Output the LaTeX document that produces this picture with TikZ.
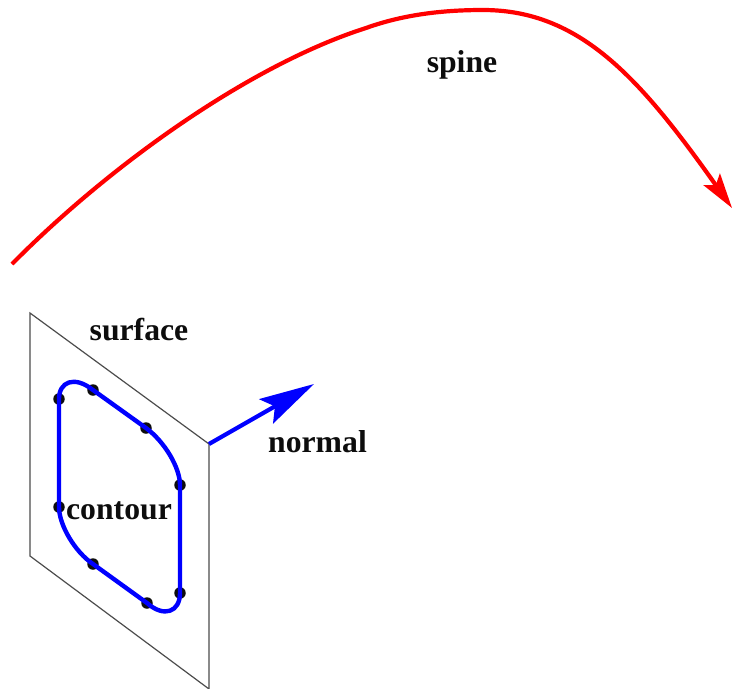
\documentclass[tikz,border=0pt]{standalone}
\usepackage{fontspec}
\setmainfont{Liberation Serif}
\usetikzlibrary{arrows.meta}

\begin{document}
\begin{tikzpicture}[
	x=1pt,y=-1pt,
	every node/.style={
		inner sep=0pt,
		font=\fontsize{31.7}{35}\selectfont\bfseries,
		text=black!95
	},
	panel/.style={draw=black!70,line width=1.2pt,line join=miter},
	spineline/.style={draw=red,line width=4.2pt,
		-{Stealth[length=35pt,width=20pt,inset=7pt]}},
	normalline/.style={draw=blue,line width=4.2pt,
		-{Stealth[length=55pt,width=28pt,inset=10pt]}},
	contourline/.style={draw=blue,line width=4.4pt,line join=round},
	ctrlpoint/.style={fill=black!95,circle,inner sep=0pt,minimum size=11.5pt}
	]
	\useasboundingbox (0,0) rectangle (732,689);
	
	%%%%%%%%%%%%%%%%%%%%%%%%%%%%%%%%%%%%%%%%%%%%%%%%%%%%%%%%%%%%
	% Spine
	%%%%%%%%%%%%%%%%%%%%%%%%%%%%%%%%%%%%%%%%%%%%%%%%%%%%%%%%%%%%
	
	\coordinate (s0) at (12,264);
	\coordinate (s1) at (366,28);
	\coordinate (s2) at (483,10);
	\coordinate (s3) at (732,208);
	
	\draw[spineline] (s0) .. controls (110,165) and (250,65) .. (s1)
	.. controls (405,14) and (445,10) .. (s2)
	.. controls (580,10) and (640,78) .. (s3);
	
	\node (spine) at (462,65) {spine};
	
	%%%%%%%%%%%%%%%%%%%%%%%%%%%%%%%%%%%%%%%%%%%%%%%%%%%%%%%%%%%%
	% Surface
	%%%%%%%%%%%%%%%%%%%%%%%%%%%%%%%%%%%%%%%%%%%%%%%%%%%%%%%%%%%%
	
	\draw[panel] (30,313) -- (209,444) -- (209,689) -- (30,556) -- cycle;
	
	\node (surface) at (139,330) {surface};
	
	%%%%%%%%%%%%%%%%%%%%%%%%%%%%%%%%%%%%%%%%%%%%%%%%%%%%%%%%%%%%
	% Normal
	%%%%%%%%%%%%%%%%%%%%%%%%%%%%%%%%%%%%%%%%%%%%%%%%%%%%%%%%%%%%
	
	\coordinate (foot) at (209,444);
	\coordinate (head) at (314,384);
	
	\draw[normalline] (foot) -- (head);
	
	\node (normal) at (317.5,442) {normal};
	
	%%%%%%%%%%%%%%%%%%%%%%%%%%%%%%%%%%%%%%%%%%%%%%%%%%%%%%%%%%%%
	% Contour
	%%%%%%%%%%%%%%%%%%%%%%%%%%%%%%%%%%%%%%%%%%%%%%%%%%%%%%%%%%%%
	
	\foreach \name/\px/\py in {p1/59/399,p2/93/390,p3/146/428,p4/180/485,
		p5/180/593,p6/147/603,p7/93/564,p8/59/507}
	\node[ctrlpoint] (\name) at (\px,\py) {};
	
	\draw[contourline] (p1.center) .. controls (59,382) and (74,375) .. (p2.center)
	-- (p3.center) .. controls (165,442) and (180,468) .. (p4.center)
	-- (p5.center) .. controls (180,612) and (164,618) .. (p6.center)
	-- (p7.center) .. controls (75,552) and (59,525) .. (p8.center)
	-- cycle;
	
	\node (contour) at (119,511) {contour};
	
\end{tikzpicture}
\end{document}
